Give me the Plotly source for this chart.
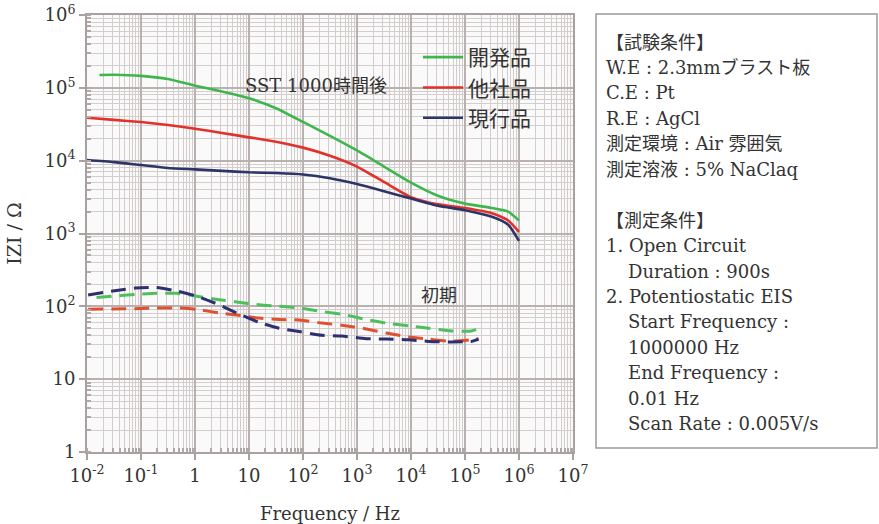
import plotly.graph_objects as go

# ---- SST 1000 h (solid) ----
freq_sst = [0.01, 0.0316, 0.1, 0.316, 1, 3.16, 10, 31.6, 100, 316, 1000, 3160,
            10000, 31600, 100000, 316000, 630000, 1000000]
freq_dev_sst = [0.017] + freq_sst[1:]
z_dev_sst = [150000, 151000, 146000, 132000, 107000, 89000, 72000, 52500, 34000, 21900,
             13800, 8300, 5000, 3300, 2570, 2240, 2000, 1510]
z_oth_sst = [38900, 36300, 33900, 30900, 27500, 24000, 20900, 18200, 15100, 11700,
             8300, 5100, 3160, 2510, 2240, 1900, 1510, 1050]
z_cur_sst = [10200, 9550, 8700, 7940, 7590, 7240, 6920, 6760, 6460, 5750,
             4790, 3800, 3020, 2400, 2090, 1700, 1320, 790]

# ---- initial (dashed) ----
freq_init = [0.0105, 0.030, 0.078, 0.195, 0.46, 1.07, 2.8, 5.9, 15.5, 36, 85, 224, 525,
             1480, 3470, 9100, 21400, 56000, 132000, 178000]
freq_dev_init = [0.015] + freq_init[1:]
z_dev_init = [132, 138, 145, 151, 151, 138, 123, 115, 105, 100, 95, 85, 78, 66, 59, 54, 50, 46, 46, 49]
z_oth_init = [91, 92, 93, 95, 95, 91, 81, 76, 69, 66, 65, 59, 55, 49, 43, 38, 35.5, 33, 34.7, 36]
z_cur_init = [143, 162, 178, 182, 162, 138, 105, 81, 60, 50, 45, 40, 39, 36, 35.5, 34.7, 33, 32.4, 33, 35.5]

series_names = ["開発品", "他社品", "現行品"]
solid_colors = ["#3fb64c", "#e2312b", "#2c3468"]
dash_colors = ["#4fbf5c", "#e0502e", "#2e2f70"]

x_tickvals = [1e-2, 1e-1, 1, 10, 1e2, 1e3, 1e4, 1e5, 1e6, 1e7]
x_ticktext = ["10<sup>-2</sup>", "10<sup>-1</sup>", "1", "10", "10<sup>2</sup>", "10<sup>3</sup>",
              "10<sup>4</sup>", "10<sup>5</sup>", "10<sup>6</sup>", "10<sup>7</sup>"]
y_tickvals = [1, 10, 1e2, 1e3, 1e4, 1e5, 1e6]
y_ticktext = ["1", "10", "10<sup>2</sup>", "10<sup>3</sup>", "10<sup>4</sup>", "10<sup>5</sup>", "10<sup>6</sup>"]

info_lines = [
    ("【試験条件】", 0), ("W.E : 2.3mmブラスト板", 0), ("C.E : Pt", 0), ("R.E : AgCl", 0),
    ("測定環境 : Air 雰囲気", 0), ("測定溶液 : 5% NaClaq", 0), ("", 0),
    ("【測定条件】", 0), ("1. Open Circuit", 0), ("Duration : 900s", 1),
    ("2. Potentiostatic EIS", 0), ("Start Frequency :", 1), ("1000000 Hz", 1),
    ("End Frequency :", 1), ("0.01 Hz", 1), ("Scan Rate : 0.005V/s", 1),
]

FONT = "'DejaVu Serif', 'Noto Sans CJK JP', serif"
TXT = "#333333"

fig = go.Figure()

sst = [(freq_dev_sst, z_dev_sst), (freq_sst, z_oth_sst), (freq_sst, z_cur_sst)]
init = [(freq_dev_init, z_dev_init), (freq_init, z_oth_init), (freq_init, z_cur_init)]

for (f, z), name, c in zip(sst, series_names, solid_colors):
    fig.add_trace(go.Scatter(x=f, y=z, mode="lines", name=name,
                             line=dict(color=c, width=2.6, shape="spline", smoothing=0.6)))
for (f, z), name, c in zip(init, series_names, dash_colors):
    fig.add_trace(go.Scatter(x=f, y=z, mode="lines", name=name, showlegend=False,
                             line=dict(color=c, width=3, dash="15px,8px", shape="spline", smoothing=0.6)))

# plot area: x 87..573 px, y 15..452 px
L, R, T, B = 87, 573, 15, 452
W, H = R - L, B - T


def px(xp):
    return (xp - L) / W


def py(yp):
    return (B - yp) / H


axis_common = dict(
    type="log", showgrid=True, gridcolor="#b9b0b0", gridwidth=2,
    showline=True, linecolor="#a9a0a0", linewidth=2, mirror=True,
    ticks="outside", ticklen=6, tickcolor="#a9a0a0", tickwidth=2,
    tickfont=dict(family=FONT, size=18, color=TXT),
    minor=dict(dtick="D1", showgrid=True, gridcolor="#d4cdcd", gridwidth=1,
               ticks="inside", ticklen=4, tickcolor="#b0a8a8"),
    zeroline=False, automargin=False,
)

fig.update_xaxes(range=[-2, 7], tickvals=x_tickvals, ticktext=x_ticktext,
                 title=dict(text="Frequency / Hz", font=dict(family=FONT, size=18, color=TXT), standoff=30),
                 **axis_common)
fig.update_yaxes(range=[0, 6], tickvals=y_tickvals, ticktext=y_ticktext,
                 title=dict(text="IZI / Ω", font=dict(family=FONT, size=19, color=TXT), standoff=18),
                 **axis_common)

annotations = [
    dict(text="SST 1000時間後", x=px(243), y=py(85), xanchor="left", yanchor="middle"),
    dict(text="初期", x=px(419), y=py(295), xanchor="left", yanchor="middle"),
]
for a in annotations:
    a.update(xref="paper", yref="paper", showarrow=False, font=dict(family=FONT, size=18, color=TXT))

for i, (line, indent) in enumerate(info_lines):
    if not line:
        continue
    annotations.append(dict(
        text=line, xref="paper", yref="paper", x=px(604 + 22 * indent), y=py(42 + 25.45 * i),
        xanchor="left", yanchor="middle", showarrow=False,
        font=dict(family=FONT, size=18, color=TXT)))

fig.update_layout(
    width=879, height=524,
    margin=dict(l=L, r=879 - R, t=T, b=524 - B),
    paper_bgcolor="white", plot_bgcolor="#fafafa",
    annotations=annotations,
    shapes=[dict(type="rect", xref="paper", yref="paper",
                 x0=px(596), x1=px(877), y0=py(448), y1=py(14),
                 line=dict(color="#9a9a9a", width=1.5), fillcolor="rgba(0,0,0,0)")],
    legend=dict(x=px(418), y=py(37), xanchor="left", yanchor="top",
                bgcolor="rgba(0,0,0,0)", font=dict(family=FONT, size=21, color=TXT),
                tracegroupgap=0, itemwidth=40),
    showlegend=True,
)

fig.write_html("out.html")
